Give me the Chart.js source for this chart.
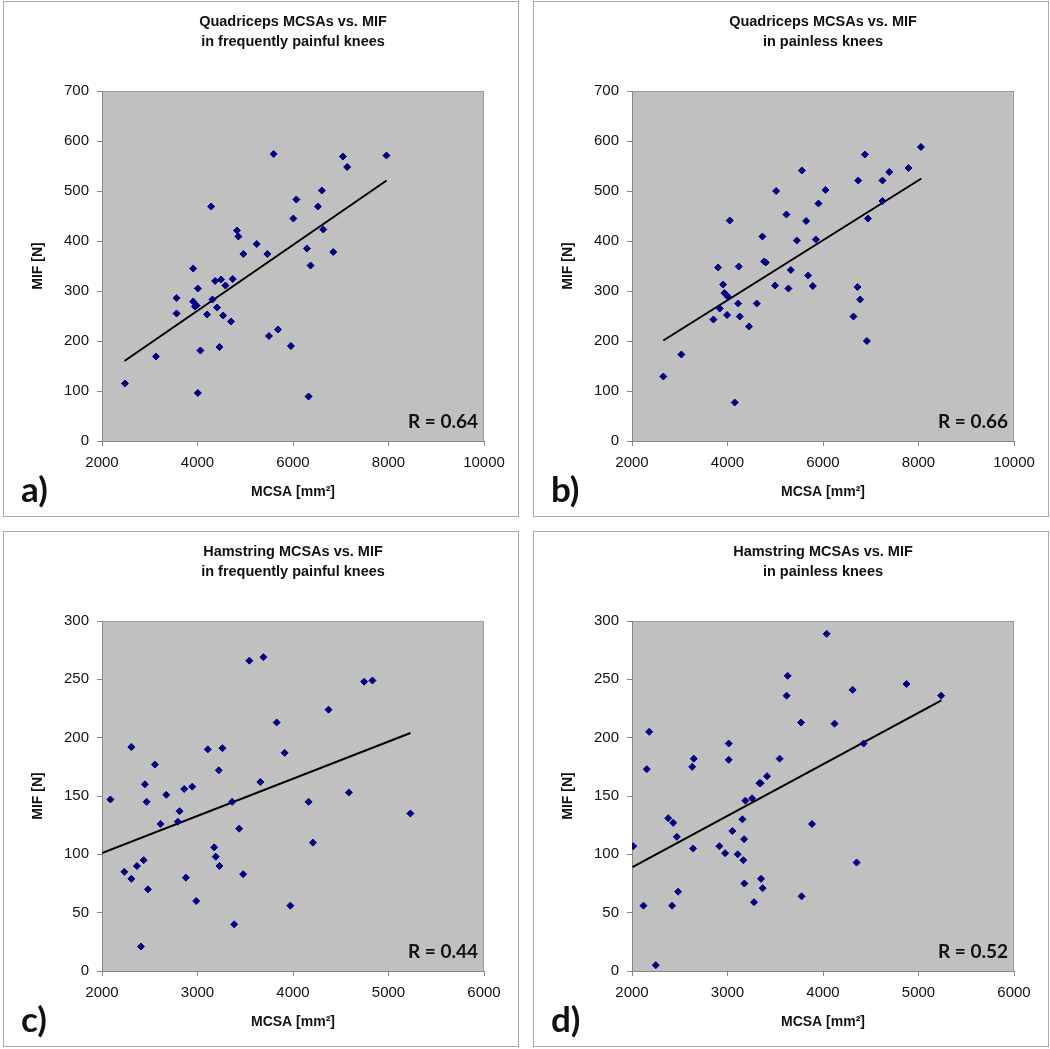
<!DOCTYPE html>
<html>
<head>
<meta charset="utf-8">
<script src="https://cdn.jsdelivr.net/npm/chart.js@4.4.1/dist/chart.umd.min.js"></script>
<style>
  body { margin: 0; background: #fff; }
  #wrap { position: relative; width: 1050px; height: 1049px; }
  canvas { position: absolute; }
</style>
</head>
<body>
<div id="wrap">
  <canvas id="chartA" width="516" height="516" style="left:3px;top:1px"></canvas>
  <canvas id="chartB" width="516" height="516" style="left:533px;top:1px"></canvas>
  <canvas id="chartC" width="516" height="516" style="left:3px;top:531px"></canvas>
  <canvas id="chartD" width="516" height="516" style="left:533px;top:531px"></canvas>
</div>
<script>
// a) quadriceps, frequently painful knees
const quadPainX = [2481, 3130, 3562, 3562, 3910, 3910, 3945, 3980, 4007, 4007, 4062, 4201, 4285, 4313, 4369, 4410, 4460, 4494, 4536, 4585, 4703, 4738, 4828, 4856, 4961, 5240, 5463, 5497, 5595, 5685, 5957, 6007, 6070, 6292, 6368, 6326, 6521, 6605, 6634, 6843, 7045, 7135, 7957];
const quadPainY = [115, 169, 286, 255, 345, 279, 269, 271, 305, 96, 181, 253, 469, 283, 320, 267, 188, 323, 251, 311, 239, 324, 421, 409, 374, 394, 374, 210, 574, 223, 190, 445, 483, 385, 351, 89, 469, 501, 423, 378, 569, 548, 571];
const quadPainFitX = [2470, 7960];
const quadPainFitY = [160, 521];

// b) quadriceps, painless knees
const quadFreeX = [2656, 3034, 3705, 3803, 3838, 3907, 3935, 3970, 4012, 3991, 4047, 4152, 4222, 4236, 4257, 4452, 4613, 4731, 4767, 4802, 4997, 5018, 5234, 5276, 5326, 5452, 5557, 5647, 5689, 5787, 5850, 5905, 6052, 6737, 6877, 6940, 6722, 6779, 6638, 6919, 7246, 7246, 7387, 7791, 8051];
const quadFreeY = [129, 173, 243, 347, 265, 313, 296, 293, 288, 252, 441, 77, 275, 349, 249, 229, 275, 409, 359, 357, 311, 500, 453, 305, 342, 401, 541, 440, 331, 310, 403, 475, 502, 521, 573, 445, 308, 283, 249, 200, 521, 480, 538, 546, 588];
const quadFreeFitX = [2656, 8060];
const quadFreeFitY = [201, 525];

// c) hamstrings, frequently painful knees
const hamPainX = [2088, 2234, 2307, 2307, 2366, 2408, 2436, 2449, 2467, 2481, 2554, 2613, 2673, 2794, 2812, 2861, 2878, 2945, 2986, 3108, 3175, 3191, 3223, 3230, 3261, 3363, 3384, 3436, 3478, 3543, 3658, 3690, 3829, 3912, 3972, 4163, 4209, 4372, 4585, 4745, 4832, 5229];
const hamPainY = [147, 85, 192, 79, 90, 21, 95, 160, 145, 70, 177, 126, 151, 128, 137, 156, 80, 158, 60, 190, 106, 98, 172, 90, 191, 145, 40, 122, 83, 266, 162, 269, 213, 187, 56, 145, 110, 224, 153, 248, 249, 135];
const hamPainFitX = [2000, 5230];
const hamPainFitY = [101, 204];

// d) hamstrings, painless knees
const hamFreeX = [2013, 2120, 2155, 2180, 2249, 2379, 2420, 2431, 2469, 2483, 2630, 2647, 2640, 2915, 2975, 3013, 3013, 3051, 3107, 3156, 3166, 3174, 3177, 3187, 3257, 3278, 3334, 3347, 3351, 3368, 3414, 3546, 3619, 3630, 3770, 3776, 3885, 4038, 4121, 4310, 4352, 4425, 4874, 5237];
const hamFreeY = [107, 56, 173, 205, 5, 131, 56, 127, 115, 68, 175, 182, 105, 107, 101, 195, 181, 120, 100, 130, 95, 113, 75, 146, 148, 59, 161, 161, 79, 71, 167, 182, 236, 253, 213, 64, 126, 289, 212, 241, 93, 195, 246, 236];
const hamFreeFitX = [2005, 5240];
const hamFreeFitY = [89, 232];

const titles = [
  ['Quadriceps MCSAs vs. MIF', 'in frequently painful knees'],
  ['Quadriceps MCSAs vs. MIF', 'in painless knees'],
  ['Hamstring MCSAs vs. MIF', 'in frequently painful knees'],
  ['Hamstring MCSAs vs. MIF', 'in painless knees'],
];
const letters = ['a)', 'b)', 'c)', 'd)'];
const rValues = ['R = 0.64', 'R = 0.66', 'R = 0.44', 'R = 0.52'];

const ARIAL = '"Liberation Sans", Arial, sans-serif';
const CALIBRI = 'Lato, "Open Sans", sans-serif';

// plot area background, frame, panel letter and R label
const panelDecor = {
  id: 'panelDecor',
  beforeDraw(chart) {
    const { ctx, chartArea: a, width, height } = chart;
    ctx.save();
    ctx.fillStyle = '#fff';
    ctx.fillRect(0, 0, width, height);
    ctx.strokeStyle = '#a9a9a9';
    ctx.lineWidth = 1;
    ctx.strokeRect(0.5, 0.5, width - 1, height - 1);
    ctx.fillStyle = '#c0c0c0';
    ctx.fillRect(a.left, a.top, a.right - a.left, a.bottom - a.top);
    ctx.strokeStyle = '#9a9a9a';
    ctx.strokeRect(a.left + 0.5, a.top + 0.5, a.right - a.left - 1, a.bottom - a.top);
    ctx.restore();
  },
  afterDraw(chart, args, opts) {
    const { ctx, chartArea: a } = chart;
    ctx.save();
    ctx.fillStyle = '#111';
    ctx.font = 'bold 19px ' + CALIBRI;
    ctx.textAlign = 'right';
    ctx.textBaseline = 'middle';
    ctx.fillText(opts.r, a.right - 6, a.bottom - 19);
    ctx.font = 'bold 35px ' + CALIBRI;
    ctx.textAlign = 'left';
    ctx.textBaseline = 'alphabetic';
    ctx.fillText(opts.letter, 18, 501);
    ctx.restore();
  }
};

// plain numbers, no thousands separator
const plainTick = (v) => String(v);

function makeChart(id, i, xs, ys, fitX, fitY, xMax, xStep, yMax, yStep) {
  const ctx = document.getElementById(id).getContext('2d');
  return new Chart(ctx, {
    type: 'scatter',
    data: {
      datasets: [
        {
          data: xs.map((x, k) => ({ x: x, y: ys[k] })),
          pointStyle: 'rectRot',
          pointRadius: 3.5,
          backgroundColor: '#000080',
          borderColor: '#000080',
          borderWidth: 1,
        },
        {
          type: 'line',
          data: fitX.map((x, k) => ({ x: x, y: fitY[k] })),
          borderColor: '#000',
          borderWidth: 2,
          pointRadius: 0,
          fill: false,
        },
      ],
    },
    options: {
      responsive: false,
      animation: false,
      events: [],
      layout: { padding: { left: 0, top: 0, right: 35, bottom: 0 } },
      plugins: {
        legend: { display: false },
        tooltip: { enabled: false },
        title: {
          display: true,
          text: titles[i],
          fullSize: false,
          color: '#111',
          font: { family: ARIAL, size: 14.5, weight: 'bold', lineHeight: '20px' },
          padding: { top: 11, bottom: 39 },
        },
        panelDecor: { letter: letters[i], r: rValues[i] },
      },
      scales: {
        x: {
          type: 'linear',
          min: 2000,
          max: xMax,
          ticks: { stepSize: xStep, padding: 8, color: '#111', maxRotation: 0, callback: plainTick, font: { family: ARIAL, size: 15 } },
          grid: { drawOnChartArea: false, tickLength: 5, color: '#868686' },
          border: { color: '#868686' },
          title: {
            display: true,
            text: 'MCSA [mm²]',
            color: '#111',
            font: { family: ARIAL, size: 14, weight: 'bold' },
            padding: { top: 0, bottom: 16 },
          },
          afterFit(s) { s.height = 76; },
        },
        y: {
          type: 'linear',
          min: 0,
          max: yMax,
          ticks: { stepSize: yStep, padding: 8, color: '#111', callback: plainTick, font: { family: ARIAL, size: 15 } },
          grid: { drawOnChartArea: false, tickLength: 5, color: '#868686' },
          border: { color: '#868686' },
          title: {
            display: true,
            text: 'MIF [N]',
            color: '#111',
            font: { family: ARIAL, size: 14, weight: 'bold' },
            padding: { top: 27, bottom: 0 },
          },
          afterFit(s) { s.width = 99; },
        },
      },
    },
    plugins: [panelDecor],
  });
}

makeChart('chartA', 0, quadPainX, quadPainY, quadPainFitX, quadPainFitY, 10000, 2000, 700, 100);
makeChart('chartB', 1, quadFreeX, quadFreeY, quadFreeFitX, quadFreeFitY, 10000, 2000, 700, 100);
makeChart('chartC', 2, hamPainX, hamPainY, hamPainFitX, hamPainFitY, 6000, 1000, 300, 50);
makeChart('chartD', 3, hamFreeX, hamFreeY, hamFreeFitX, hamFreeFitY, 6000, 1000, 300, 50);
</script>
</body>
</html>
